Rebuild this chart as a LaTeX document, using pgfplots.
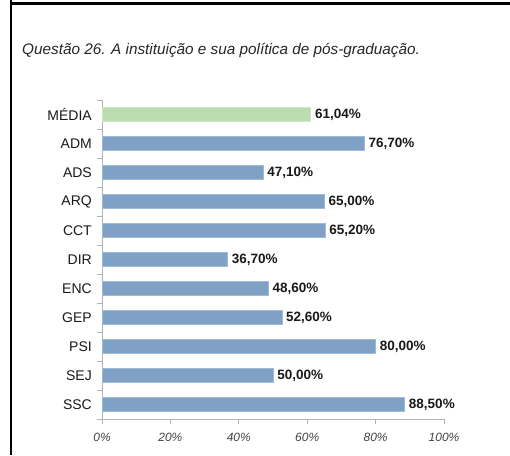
\documentclass[border=0pt]{standalone}
\usepackage{pgfplots}
\pgfplotsset{compat=1.18}
\usepackage{fontspec}
\setmainfont{Liberation Sans}
\definecolor{barblue}{RGB}{126,161,197}
\definecolor{barblueedge}{RGB}{160,187,214}
\definecolor{bargreen}{RGB}{188,221,176}
\definecolor{bargreenedge}{RGB}{205,230,195}
\definecolor{axgray}{RGB}{179,179,179}
\definecolor{ticktext}{RGB}{68,68,68}
\begin{document}
\begin{tikzpicture}[x=1pt,y=1pt]
\useasboundingbox (0,0) rectangle (510,455);
\fill[white] (0,0) rectangle (510,455);
\draw[black,line width=2.4pt] (11.2,455) -- (11.2,451.3) -- (510,451.3);
\draw[black,line width=2.4pt] (11.2,0) -- (11.2,451.3);
\node[anchor=west,inner sep=0pt,font=\fontsize{15.3}{17}\selectfont\itshape,text=black!85] at (22,405) {Questão 26. A instituição e sua política de pós-graduação.};
\begin{axis}[
  at={(102pt,36pt)}, anchor=south west,
  scale only axis, width=342pt, height=319pt,
  xmin=0, xmax=100, ymin=-0.5, ymax=10.5,
  y dir=reverse,
  axis x line*=bottom, axis y line*=left,
  axis line style={axgray, line width=0.8pt, -},
  xtick={0,20,40,60,80,100},
  xticklabels={0\%,20\%,40\%,60\%,80\%,100\%},
  xticklabel style={font=\fontsize{12}{14}\selectfont\itshape, text=ticktext, inner sep=0pt, yshift=-9pt},
  ytick={0,...,10},
  yticklabels={MÉDIA,ADM,ADS,ARQ,CCT,DIR,ENC,GEP,PSI,SEJ,SSC},
  yticklabel style={font=\fontsize{14}{16}\selectfont, text=black!90, inner sep=0pt, xshift=-5pt},
  minor ytick={-0.5,0.5,...,10.5},
  major tick length=5pt, minor tick length=5pt,
  tick align=outside,
  tick style={axgray, line width=0.8pt},
  major y tick style={draw=none},
  minor y tick style={draw=axgray},
  xbar, bar width=14pt, bar shift=0pt,
  point meta=explicit symbolic,
  nodes near coords={\pgfplotspointmeta},
  nodes near coords style={font=\fontsize{13.5}{16}\selectfont\bfseries, text=black!90, anchor=west, inner sep=0pt, xshift=4pt},
  clip=false,
]
\addplot[fill=bargreen, draw=bargreenedge, line width=0.6pt] coordinates {(61.04,0) [61,04\%]};
\addplot[fill=barblue, draw=barblueedge, line width=0.6pt] coordinates {
(76.70,1) [76,70\%]
(47.10,2) [47,10\%]
(65.00,3) [65,00\%]
(65.20,4) [65,20\%]
(36.70,5) [36,70\%]
(48.60,6) [48,60\%]
(52.60,7) [52,60\%]
(80.00,8) [80,00\%]
(50.00,9) [50,00\%]
(88.50,10) [88,50\%]
};
\end{axis}
\end{tikzpicture}
\end{document}
